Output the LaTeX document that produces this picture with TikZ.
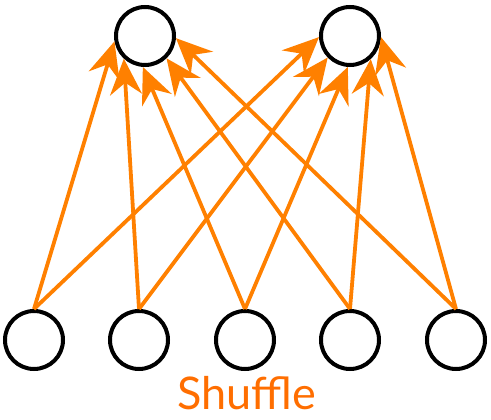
\documentclass[tikz,border=0pt]{standalone}
\usepackage{fontspec}
\setsansfont{Lato}
\usetikzlibrary{arrows.meta}
\definecolor{arr}{RGB}{255,128,0}
\definecolor{txt}{RGB}{255,110,0}
\begin{document}
\begin{tikzpicture}[x=1pt,y=-1pt,
  unit/.style={circle,draw=black,line width=4pt,minimum size=58pt,inner sep=0pt,fill=white},
  link/.style={draw=arr,line width=3.8pt,-{Stealth[length=36pt,width=32pt,inset=12pt]}},
  lbl/.style={text=txt,font=\sffamily\fontsize{45}{48}\selectfont,anchor=base,inner sep=0pt,text depth=0pt}]
\useasboundingbox (0,0) rectangle (491,420);
\node[unit] (t1) at (145,36) {};
\node[unit] (t2) at (350,36) {};
\node[unit] (b1) at (34,340) {};
\node[unit] (b2) at (139,340) {};
\node[unit] (b3) at (245,340) {};
\node[unit] (b4) at (350,340) {};
\node[unit] (b5) at (456,340) {};
\draw[link] (b1.north) -- (t1.190);
\draw[link] (b2.north) -- (t1.227);
\draw[link] (b3.north) -- (t1.266);
\draw[link] (b4.north) -- (t1.314);
\draw[link] (b5.north) -- (t1.356);
\draw[link] (b1.north) -- (t2.182);
\draw[link] (b2.north) -- (t2.224);
\draw[link] (b3.north) -- (t2.266);
\draw[link] (b4.north) -- (t2.312);
\draw[link] (b5.north) -- (t2.358);
\node[lbl] (s) at (247,409) {Shuffle};
\end{tikzpicture}
\end{document}
